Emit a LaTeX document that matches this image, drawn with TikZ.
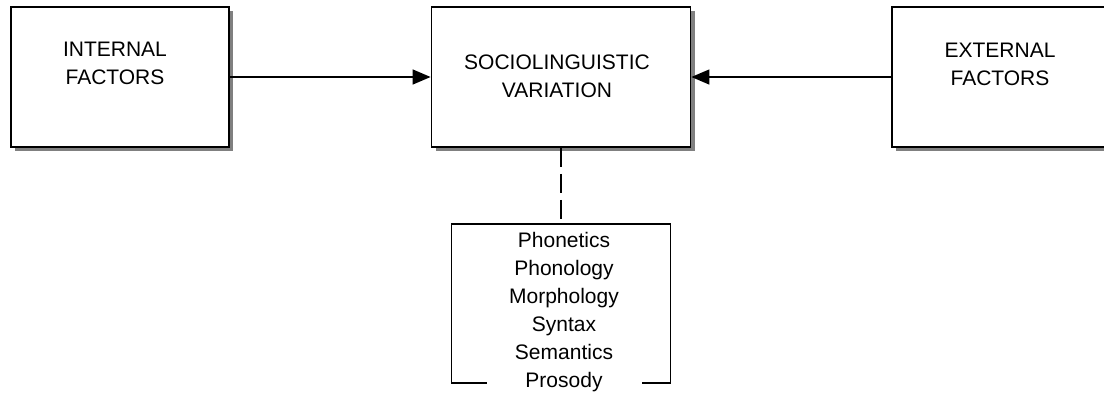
\documentclass[tikz,border=0pt]{standalone}
\usepackage{fontspec}
\setmainfont{Liberation Sans}
\usetikzlibrary{arrows.meta,shadows}

\newcommand*{\picw}{1104}
\newcommand*{\pich}{394}

\begin{document}
\begin{tikzpicture}
[
	x=1pt,
	y=-1pt,
	factorbox/.style={rectangle,draw,line width=1.8pt,fill=white,minimum height=140pt,inner sep=0pt,
		drop shadow={shadow xshift=4pt,shadow yshift=-4pt,fill=black!50,opacity=1}},
	listbox/.style={rectangle,draw,line width=1.3pt,minimum width=219pt,minimum height=159pt,inner sep=0pt},
	boxtext/.style={align=center,inner sep=0pt,font=\fontsize{21}{28}\selectfont},
	link/.style={line width=1.3pt,-{Triangle[length=18pt,width=15pt]}}
]

	% page
	\clip (0,0) rectangle (\picw,\pich);

	% factor boxes
	\node[factorbox,minimum width=218pt] (internal) at (120,77) {};
	\node[factorbox,minimum width=259pt] (sociovar) at (561,77) {};
	\node[factorbox,minimum width=220pt] (external) at (1002,77) {};

	% box labels
	\node[boxtext] (internaltext) at (115,63) {INTERNAL\\FACTORS};
	\node[boxtext] (sociovartext) at (557,76) {SOCIOLINGUISTIC\\VARIATION};
	\node[boxtext] (externaltext) at (1000,64) {EXTERNAL\\FACTORS};

	% levels
	\node[listbox] (levels) at (561,303.5) {};
	\node[boxtext,fill=white,text width=155pt,anchor=north] (levelstext) at (564,232)
		{Phonetics\\Phonology\\Morphology\\Syntax\\Semantics\\Prosody};

	% arrows
	\draw[link] (internal) -- (sociovar);
	\draw[link] (external) -- (sociovar);
	\draw[line width=1.3pt,dash pattern=on 19pt off 7pt] (sociovar) -- (levels);

\end{tikzpicture}
\end{document}
